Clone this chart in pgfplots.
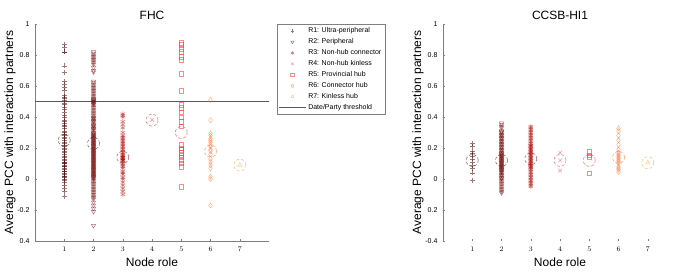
\documentclass[border=0pt]{standalone}
\usepackage{pgfplots}
\pgfplotsset{compat=1.18}
\usepackage{fontspec}
\setmainfont{Liberation Sans}
\definecolor{c1}{RGB}{80,10,10}
\definecolor{c2}{RGB}{115,0,0}
\definecolor{c3}{RGB}{175,0,0}
\definecolor{c4}{RGB}{228,60,75}
\definecolor{c5}{RGB}{255,40,40}
\definecolor{c6}{RGB}{255,110,50}
\definecolor{c7}{RGB}{255,160,60}
\pgfplotsset{
  base/.style={
    scale only axis, width=234pt, height=217pt,
    xmin=0, xmax=8, ymin=-0.4, ymax=1,
    axis x line*=bottom, axis y line*=left,
    axis line style={-, gray, line width=0.6pt},
    xtick={1,2,3,4,5,6,7}, ytick={-0.4,-0.2,0,0.2,0.4,0.6,0.8,1},
    tick align=inside, major tick length=2pt,
    tick style={gray, line width=0.5pt},
    tick label style={font=\fontsize{7}{8}\selectfont},
    xticklabel style={yshift=-2pt},
    yticklabel style={xshift=-2pt},
    title style={font=\fontsize{12}{14}\selectfont, at={(0.5,1)}, anchor=base, yshift=-1pt},
    xlabel style={font=\fontsize{12}{14}\selectfont, at={(axis description cs:0.5,0)}, anchor=base, yshift=-25pt},
    ylabel style={font=\fontsize{12}{14}\selectfont, at={(axis description cs:0,0.5)}, anchor=center, yshift=25pt},
    xlabel={Node role}, ylabel={Average PCC with interaction partners},
    clip=false,
  },
  pts/.style={only marks, mark size=2.5pt, opacity=0.55, line width=0.5pt},
  mean/.style={only marks, mark=o, mark size=6pt, mark options={densely dashed, line width=0.5pt}, opacity=0.7, forget plot},
}
\begin{document}
\begin{tikzpicture}
\path[use as bounding box] (0,0) rectangle (684pt,271pt);
% ---------------- FHC ----------------
\begin{axis}[base, at={(35pt,30pt)}, anchor=south west, title={FHC},
  yticklabels={0.4,-0.2,0,0.2,0.4,0.6,0.8,1},
  legend style={at={(1.034,1)}, anchor=north west, draw=gray, fill=white,
    font=\fontsize{7}{8}\selectfont, row sep=0.4pt, inner sep=1.5pt},
  legend cell align=left,
  legend image code/.code={\draw[mark repeat=2,mark phase=2,#1] plot coordinates {(0pt,0pt) (13.5pt,0pt) (27pt,0pt)};},
  legend image post style={mark size=1.8pt},
]
\addplot[pts, c1, mark=+] coordinates {
(1,0.87)(1,0.85)(1,0.82)(1,0.82)(1,0.73)(1,0.69)(1,0.63)(1,0.61)(1,0.59)(1,0.57)
(1,0.54)(1,0.53)(1,0.52)(1,0.51)(1,0.49)(1,0.48)(1,0.46)(1,0.45)(1,0.43)(1,0.41)
(1,0.40)(1,0.38)(1,0.37)(1,0.36)(1,0.35)(1,0.34)(1,0.33)(1,0.31)(1,0.30)(1,0.29)
(1,0.28)(1,0.27)(1,0.26)(1,0.25)(1,0.24)(1,0.23)(1,0.22)(1,0.21)(1,0.20)(1,0.19)
(1,0.18)(1,0.17)(1,0.16)(1,0.15)(1,0.14)(1,0.13)(1,0.12)(1,0.11)(1,0.11)(1,0.10)
(1,0.10)(1,0.09)(1,0.08)(1,0.08)(1,0.07)(1,0.06)(1,0.05)(1,0.05)(1,0.04)(1,0.03)
(1,0.02)(1,0.02)(1,0.01)(1,0.00)(1,-0.01)(1,-0.02)(1,-0.04)(1,-0.06)(1,-0.08)(1,-0.11)};
\addlegendentry{R1: Ultra-peripheral}
\addplot[pts, c2, mark=triangle, mark options={rotate=180}] coordinates {
(2,0.82)(2,0.81)(2,0.80)(2,0.79)(2,0.78)(2,0.77)(2,0.76)(2,0.75)(2,0.74)(2,0.72)
(2,0.70)(2,0.69)(2,0.63)(2,0.62)(2,0.61)(2,0.60)(2,0.59)(2,0.58)(2,0.57)(2,0.56)
(2,0.55)(2,0.54)(2,0.53)(2,0.52)(2,0.51)(2,0.50)(2,0.49)(2,0.48)(2,0.47)(2,0.46)
(2,0.45)(2,0.44)(2,0.43)(2,0.42)(2,0.41)(2,0.40)(2,0.39)(2,0.38)(2,0.37)(2,0.36)
(2,0.35)(2,0.34)(2,0.33)(2,0.32)(2,0.31)(2,0.30)(2,0.29)(2,0.28)(2,0.27)(2,0.26)
(2,0.25)(2,0.24)(2,0.23)(2,0.22)(2,0.21)(2,0.20)(2,0.19)(2,0.18)(2,0.17)(2,0.16)
(2,0.15)(2,0.14)(2,0.13)(2,0.12)(2,0.11)(2,0.10)(2,0.09)(2,0.08)(2,0.07)(2,0.06)
(2,0.05)(2,0.04)(2,0.03)(2,0.02)(2,0.01)(2,0.00)(2,-0.01)(2,-0.02)(2,-0.03)(2,-0.04)
(2,0.295)(2,0.285)(2,0.275)(2,0.265)(2,0.255)(2,0.245)(2,0.235)(2,0.225)(2,0.215)(2,0.205)
(2,0.195)(2,0.185)(2,0.175)(2,0.165)(2,0.155)(2,0.145)(2,0.135)(2,0.125)(2,0.115)(2,0.105)
(2,0.095)(2,0.085)(2,0.075)(2,0.065)(2,0.055)(2,0.045)(2,0.035)(2,0.025)(2,0.015)(2,0.005)
(2,0.515)(2,0.505)(2,0.495)(2,0.485)(2,0.395)(2,0.375)(2,0.345)(2,0.325)
(2,-0.05)(2,-0.06)(2,-0.07)(2,-0.08)(2,-0.09)(2,-0.10)(2,-0.11)(2,-0.12)(2,-0.13)
(2,-0.15)(2,-0.17)(2,-0.19)(2,-0.21)(2,-0.30)};
\addlegendentry{R2: Peripheral}
\addplot[pts, c3, mark=asterisk] coordinates {
(3,0.42)(3,0.41)(3,0.40)(3,0.37)(3,0.35)(3,0.33)(3,0.30)(3,0.28)(3,0.27)(3,0.26)
(3,0.25)(3,0.24)(3,0.23)(3,0.22)(3,0.21)(3,0.20)(3,0.19)(3,0.18)(3,0.17)(3,0.16)
(3,0.15)(3,0.15)(3,0.14)(3,0.14)(3,0.13)(3,0.13)(3,0.12)(3,0.12)(3,0.11)(3,0.10)
(3,0.09)(3,0.08)(3,0.07)(3,0.05)(3,0.04)(3,0.03)(3,0.01)(3,0.00)(3,-0.02)(3,-0.04)
(3,-0.06)(3,-0.08)(3,-0.10)};
\addlegendentry{R3: Non-hub connector}
\addplot[pts, c4, mark=x] coordinates {(4,0.38)};
\addlegendentry{R4: Non-hub kinless}
\addplot[pts, c5, mark=square, mark size=2.2pt] coordinates {
(5,0.88)(5,0.865)(5,0.84)(5,0.82)(5,0.79)(5,0.77)(5,0.68)(5,0.57)(5,0.48)(5,0.46)
(5,0.43)(5,0.40)(5,0.37)(5,0.34)(5,0.22)(5,0.20)(5,0.19)(5,0.17)(5,0.155)(5,0.14)
(5,0.12)(5,0.10)(5,0.08)(5,-0.05)};
\addlegendentry{R5: Provincial hub}
\addplot[pts, c6, mark=diamond] coordinates {
(6,0.51)(6,0.38)(6,0.295)(6,0.28)(6,0.26)(6,0.25)(6,0.235)(6,0.22)(6,0.21)(6,0.19)
(6,0.18)(6,0.16)(6,0.13)(6,0.11)(6,0.09)(6,0.07)(6,0.015)(6,0.00)(6,-0.17)};
\addlegendentry{R6: Connector hub}
\addplot[pts, c7, mark=triangle] coordinates {(7,0.09)};
\addlegendentry{R7: Kinless hub}
\addplot[gray!70!black, line width=0.6pt, no marks] coordinates {(0,0.5) (8,0.5)};
\addlegendentry{Date/Party threshold}
\addplot[mean, c1] coordinates {(1,0.25)};
\addplot[mean, c2] coordinates {(2,0.23)};
\addplot[mean, c3] coordinates {(3,0.14)};
\addplot[mean, c4] coordinates {(4,0.38)};
\addplot[mean, c5] coordinates {(5,0.30)};
\addplot[mean, c6] coordinates {(6,0.18)};
\addplot[mean, c7] coordinates {(7,0.09)};
\end{axis}
% ---------------- CCSB-HI1 ----------------
\begin{axis}[base, at={(443pt,30pt)}, anchor=south west, title={CCSB-HI1},
  yticklabels={-0.4,0.2,0,0.2,0.4,0.6,0.8,1},
  x axis line style={draw=none},
]
\addplot[pts, c1, mark=+] coordinates {
(1,0.23)(1,0.21)(1,0.18)(1,0.165)(1,0.15)(1,0.13)(1,0.11)(1,0.09)(1,0.07)(1,0.04)(1,-0.01)};
\addplot[pts, c2, mark=triangle, mark options={rotate=180}] coordinates {
(2,0.36)(2,0.35)(2,0.34)(2,0.33)(2,0.31)(2,0.30)(2,0.29)(2,0.28)(2,0.27)(2,0.26)
(2,0.25)(2,0.24)(2,0.23)(2,0.22)(2,0.21)(2,0.20)(2,0.19)(2,0.18)(2,0.17)(2,0.16)
(2,0.15)(2,0.14)(2,0.13)(2,0.12)(2,0.11)(2,0.10)(2,0.09)(2,0.08)(2,0.07)(2,0.06)
(2,0.05)(2,0.04)(2,0.03)(2,0.02)(2,0.01)(2,0.00)(2,-0.01)(2,-0.02)(2,-0.03)(2,-0.04)
(2,0.305)(2,0.285)(2,0.265)(2,0.245)(2,0.225)(2,0.205)(2,0.185)(2,0.165)(2,0.145)(2,0.125)
(2,0.105)(2,0.085)(2,0.065)(2,0.045)(2,0.025)(2,0.005)(2,0.155)(2,0.135)(2,0.115)(2,0.095)
(2,0.075)(2,0.055)(2,-0.05)(2,-0.06)(2,-0.07)(2,-0.08)(2,-0.09)};
\addplot[pts, c3, mark=asterisk] coordinates {
(3,0.34)(3,0.33)(3,0.32)(3,0.31)(3,0.30)(3,0.29)(3,0.28)(3,0.27)(3,0.26)(3,0.25)
(3,0.24)(3,0.23)(3,0.22)(3,0.21)(3,0.20)(3,0.19)(3,0.18)(3,0.17)(3,0.16)(3,0.15)
(3,0.14)(3,0.13)(3,0.12)(3,0.11)(3,0.10)(3,0.09)(3,0.08)(3,0.07)(3,0.06)(3,0.05)
(3,0.04)(3,0.03)(3,0.02)(3,0.01)(3,0.00)(3,-0.01)(3,-0.02)(3,-0.03)(3,-0.04)(3,-0.05)
(3,0.215)(3,0.195)(3,0.175)(3,0.155)(3,0.135)(3,0.115)(3,0.095)(3,0.075)};
\addplot[pts, c4, mark=x] coordinates {(4,0.17)(4,0.12)(4,0.055)};
\addplot[pts, c5, mark=square, mark size=2.2pt] coordinates {(5,0.176)(5,0.155)(5,0.14)(5,0.037)};
\addplot[pts, c6, mark=diamond] coordinates {
(6,0.327)(6,0.31)(6,0.28)(6,0.25)(6,0.22)(6,0.19)(6,0.17)(6,0.16)(6,0.15)(6,0.14)
(6,0.13)(6,0.12)(6,0.11)(6,0.10)(6,0.08)(6,0.07)(6,0.06)(6,0.045)};
\addplot[pts, c7, mark=triangle] coordinates {(7,0.105)};
\addplot[mean, c1] coordinates {(1,0.12)};
\addplot[mean, c2] coordinates {(2,0.12)};
\addplot[mean, c3] coordinates {(3,0.13)};
\addplot[mean, c4] coordinates {(4,0.12)};
\addplot[mean, c5] coordinates {(5,0.12)};
\addplot[mean, c6] coordinates {(6,0.14)};
\addplot[mean, c7] coordinates {(7,0.105)};
\end{axis}
\end{tikzpicture}
\end{document}
